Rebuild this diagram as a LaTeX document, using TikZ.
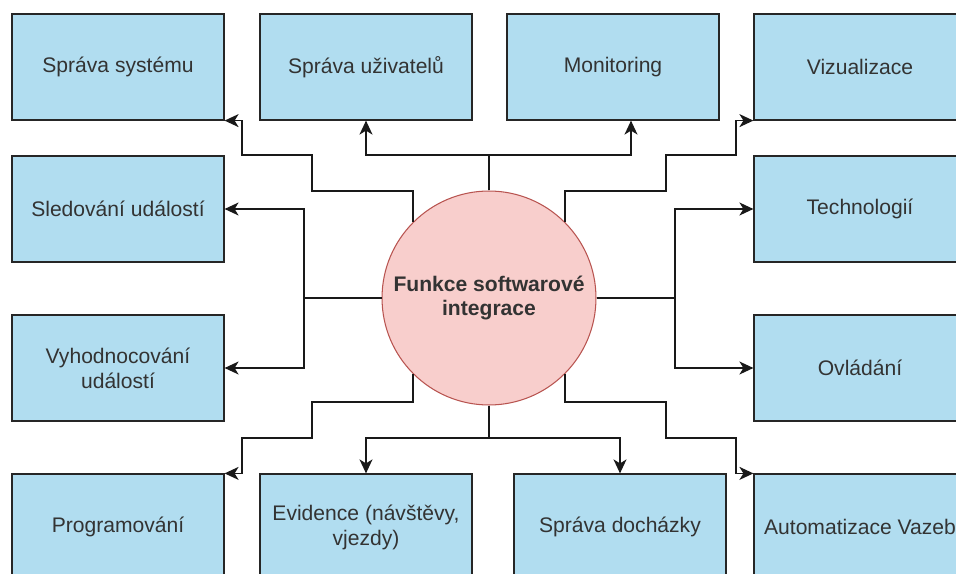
\documentclass[tikz,border=0pt]{standalone}
\usepackage{fontspec}
\setmainfont{Liberation Sans}
\usepackage{tikz}
\usetikzlibrary{shapes, positioning, calc, arrows.meta}

\definecolor{boxblue}{HTML}{B1DDF0}
\definecolor{hubfill}{HTML}{F8CECC}
\definecolor{hubline}{HTML}{B85450}

\begin{document}
\begin{tikzpicture}[x=0.02cm, y=-0.02cm,
        func/.style={draw=black!85, line width=0.7pt, fill=boxblue, text=black!80,
            minimum width=4.24cm, minimum height=2.12cm, align=center,
            font=\fontsize{12}{14.2}\selectfont},
        hub/.style={circle, draw=hubline, line width=0.6pt, fill=hubfill, text=black!80,
            minimum size=4.28cm, align=center, font=\fontsize{12}{14.2}\selectfont\bfseries},
        arr/.style={-{Stealth[length=2.8mm, width=2.6mm, inset=0.8mm]}, line width=0.9pt, black!90}]
        \useasboundingbox (0,0) rectangle (956,574);
        \clip (0,0) rectangle (956,574);

        \node[hub] (fsi) at (489, 298) {Funkce softwarové\\integrace};

        \node[func] (sys) at (118, 67) {Správa systému};
        \node[func] (usr) at (366, 67) {Správa uživatelů};
        \node[func] (mon) at (613, 67) {Monitoring};
        \node[func] (viz) at (860, 67) {Vizualizace};
        \node[func] (sled) at (118, 209) {Sledování událostí};
        \node[func] (tech) at (860, 209) {Technologií};
        \node[func] (vyh) at (118, 368) {Vyhodnocování\\událostí};
        \node[func] (ovl) at (860, 368) {Ovládání};
        \node[func] (prog) at (118, 527) {Programování};
        \node[func] (evid) at (366, 527) {Evidence (návštěvy,\\vjezdy)};
        \node[func] (doch) at (620, 527) {Správa docházky};
        \node[func] (auto) at (860, 527) {Automatizace Vazeb};

        \draw[arr] (fsi.135) |- (312, 191) |- (242, 155) |- (sys.south east);
        \draw[arr] (fsi.north) |- (366, 155) -- (usr.south);
        \draw[arr] (fsi.north) |- (631, 155) -- ($(mon.south)+(18,0)$);
        \draw[arr] (fsi.45) |- (666, 191) |- (736, 155) |- (viz.south west);
        \draw[arr] (fsi.west) -| (304, 209) -- (sled.east);
        \draw[arr] (fsi.west) -| (304, 368) -- (vyh.east);
        \draw[arr] (fsi.east) -| (675, 209) -- (tech.west);
        \draw[arr] (fsi.east) -| (675, 368) -- (ovl.west);
        \draw[arr] (fsi.225) |- (312, 402) |- (242, 438) |- (prog.north east);
        \draw[arr] (fsi.south) |- (366, 438) -- (evid.north);
        \draw[arr] (fsi.south) |- (620, 438) -- (doch.north);
        \draw[arr] (fsi.315) |- (666, 402) |- (736, 438) |- (auto.north west);
    \end{tikzpicture}
\end{document}
